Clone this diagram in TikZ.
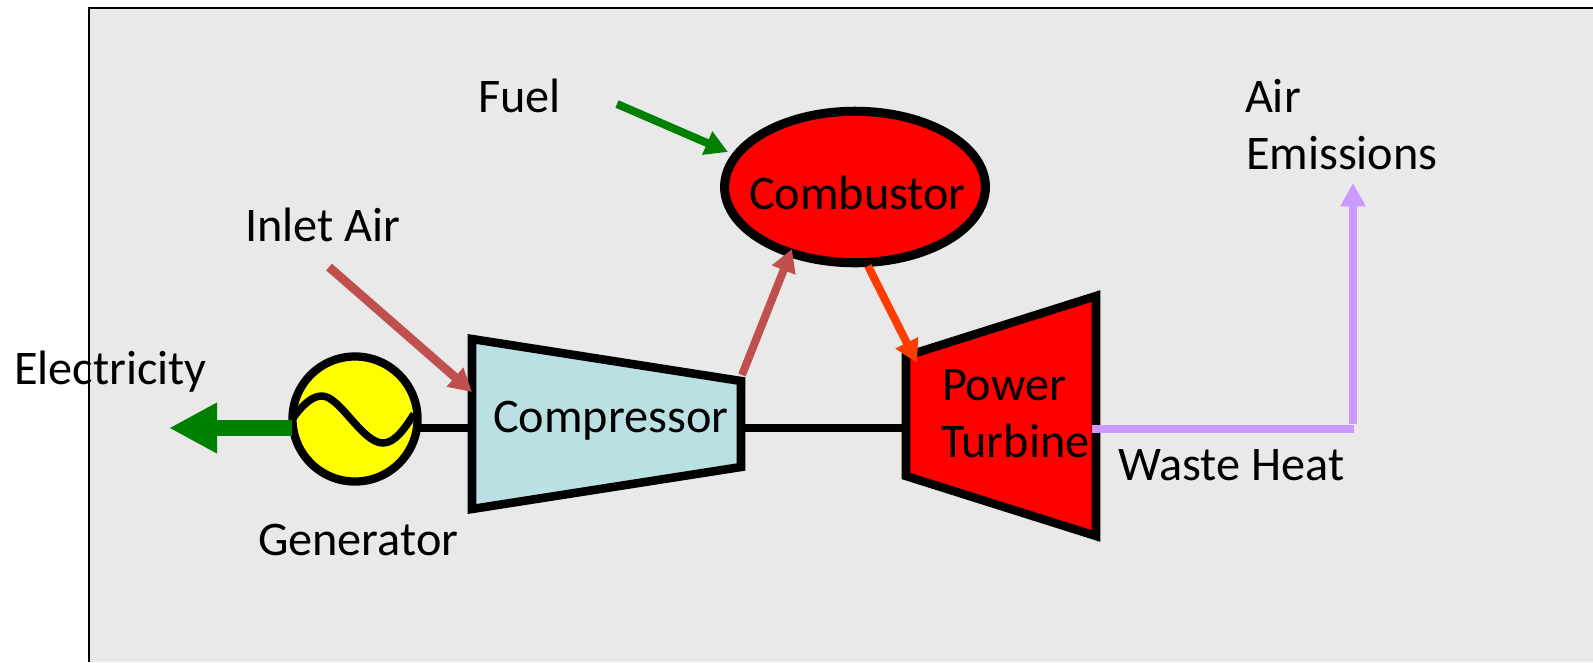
\documentclass[tikz,border=0pt]{standalone}
\usepackage{fontspec}
\setmainfont{Carlito}
\usetikzlibrary{arrows.meta,shapes.geometric}
\definecolor{panelgrey}{HTML}{E9E9E9}
\definecolor{airred}{HTML}{C0504D}
\definecolor{hotorange}{HTML}{FF3C00}
\definecolor{wastepurple}{HTML}{CC99FF}
\definecolor{fuelgreen}{HTML}{008000}
\definecolor{compblue}{HTML}{BAE0E3}
\definecolor{genyellow}{RGB}{255,255,0}
\definecolor{hotred}{RGB}{255,0,0}
\tikzset{
  x=0.75pt,y=-0.75pt,
  label text/.style={anchor=base west,inner sep=0pt,outer sep=0pt,font=\fontsize{36.2pt}{43pt}\selectfont,text=black},
  machine/.style={draw=black,line width=6.4pt,miter limit=10,line join=miter},
  shaft/.style={draw=black,line width=5.6pt},
  flowarrow/.style={line width=#1,-{Triangle[length=17pt,width=18pt]}},
  flowarrow/.default=6pt
}
\begin{document}
\begin{tikzpicture}
\useasboundingbox (0,0) rectangle (1593,662);
\fill[white] (0,0) rectangle (1593,662);
\fill[panelgrey] (89,8) rectangle (1593,662);
\draw[black,line width=1.6pt] (89,662) -- (89,8) -- (1593,8);

% named anchor points
\coordinate (cTL) at (472,339);
\coordinate (cTR) at (741,381);
\coordinate (cBR) at (741,467);
\coordinate (cBL) at (472,509);
\coordinate (cW) at (472,428);
\coordinate (cE) at (741,428);
\coordinate (tTL) at (906,356);
\coordinate (tTR) at (1096,296);
\coordinate (tBR) at (1096,536);
\coordinate (tBL) at (906,476);
\coordinate (tW) at (906,428);
\coordinate (tE) at (1092,428.5);
\coordinate (fuelStart) at (617,104);
\coordinate (fuelEnd) at (728,152);
\coordinate (inletStart) at (329,267);
\coordinate (inletEnd) at (472,392);
\coordinate (compOut) at (742,375);
\coordinate (combIn) at (792,249);
\coordinate (combOut) at (868,266);
\coordinate (turbIn) at (917,363);
\coordinate (wasteCorner) at (1354,428.5);
\coordinate (stackStart) at (1353,424);
\coordinate (stackEnd) at (1353,183);
\coordinate (elecEnd) at (169,428);
\coordinate (genW) at (292,428);
\coordinate (genE) at (417,428);

% shafts
\draw[shaft] (genE) -- (cW);
\draw[shaft] (cE) -- (tW);

% machines
\draw[machine,fill=compblue] (cTL) -- (cTR) -- (cBR) -- (cBL) -- cycle;
\draw[machine,fill=hotred] (tTL) -- (tTR) -- (tBR) -- (tBL) -- cycle;
\node[ellipse,draw=black,fill=hotred,line width=6.8pt,minimum width=195.6pt,minimum height=113.6pt,inner sep=0pt] (combustor) at (855,187) {};
\node[circle,draw=black,fill=genyellow,line width=6.2pt,minimum size=93.8pt,inner sep=0pt] (generator) at (355,419) {};
\draw[black,line width=5.6pt] (293,418) .. controls (304,403) and (313,396) .. (322,396)
   .. controls (340,396) and (362,443) .. (383,443)
   .. controls (395,443) and (405,428) .. (414,414);

% flows
\draw[flowarrow,draw=fuelgreen,fill=fuelgreen] (fuelStart) -- (fuelEnd);
\draw[flowarrow=6.6pt,draw=airred,fill=airred] (inletStart) -- (inletEnd);
\draw[flowarrow,draw=airred,fill=airred] (compOut) -- (combIn);
\draw[flowarrow,draw=hotorange,fill=hotorange] (combOut) -- (turbIn);
\draw[draw=wastepurple,line width=6pt] (tE) -- (wasteCorner);
\draw[draw=wastepurple,fill=wastepurple,line width=6pt,-{Triangle[length=17.5pt,width=18pt]}] (stackStart) -- (stackEnd);
\draw[draw=fuelgreen,line width=12pt,-{Triangle[length=36pt,width=35.5pt]}] (genW) -- (elecEnd);

% labels
\node[label text] (tFuel) at (478,112) {Fuel};
\node[label text] (tInlet) at (245,241) {Inlet Air};
\node[label text] (tElec) at (14,384) {Electricity};
\node[label text] (tComp) at (493,432) {Compressor};
\node[label text] (tGen) at (258,555) {Generator};
\node[label text] (tComb) at (749,209) {Combustor};
\node[label text] (tPower) at (942,400) {Power};
\node[label text] (tTurb) at (941,457) {Turbine};
\node[label text] (tWaste) at (1118,480) {Waste Heat};
\node[label text] (tAir) at (1245,112) {Air};
\node[label text] (tEmis) at (1246,169) {Emissions};
\end{tikzpicture}
\end{document}
